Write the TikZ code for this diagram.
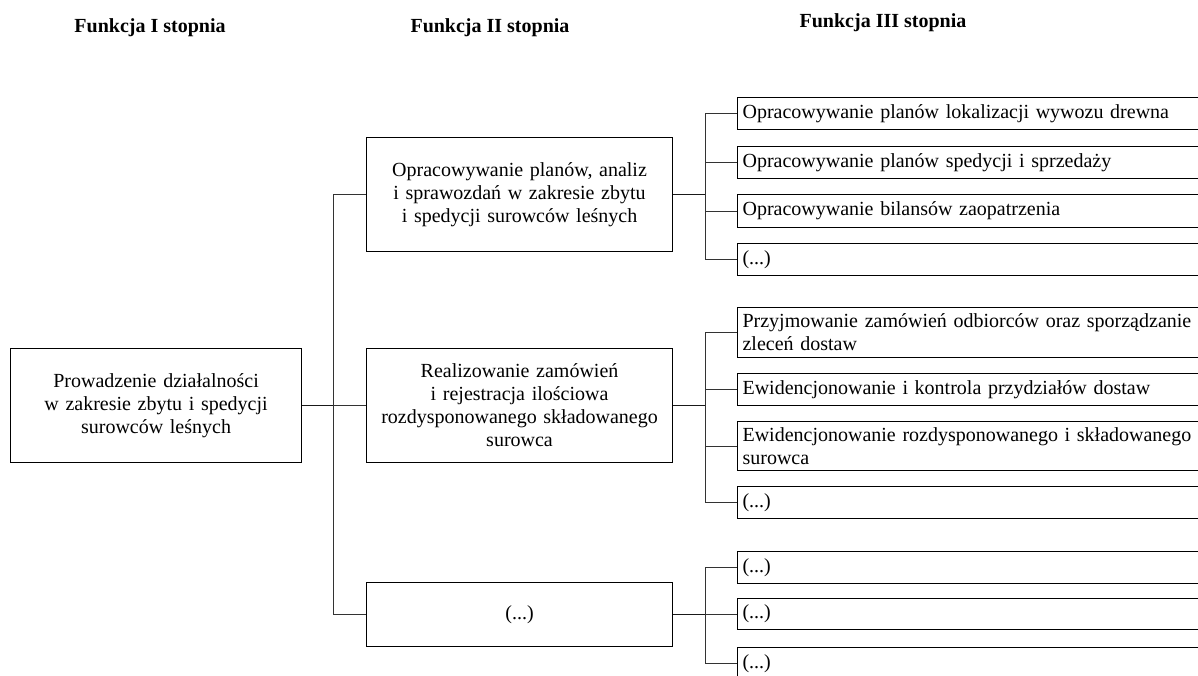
\documentclass[tikz,border=0pt]{standalone}
\usepackage{fontspec}
\setmainfont{Liberation Serif}
\begin{document}
\begin{tikzpicture}[x=1pt,y=-1pt,
  txt/.style={font=\fontsize{20}{23}\selectfont},
  head/.style={font=\fontsize{20}{23}\selectfont\bfseries, inner sep=0pt},
  box/.style={txt, draw=black, line width=1.1pt, inner ysep=0pt, inner xsep=5pt, anchor=north west},
  mainbox/.style={box, minimum width=291pt, text width=281pt, align=center},
  midbox/.style={box, minimum width=306pt, text width=296pt, align=center},
  leafbox/.style={box, minimum width=540pt, text width=530pt, align=left},
  link/.style={draw=black!80, line width=1pt},
  feed/.style={draw=black!90, line width=1.4pt}
]
\clip (0,0) rectangle (1198,675);
\fill[white] (0,0) rectangle (1198,675);

% column headings
\node[head] (h1) at (150,28) {Funkcja I stopnia};
\node[head] (h2) at (490,27.5) {Funkcja II stopnia};
\node[head] (h3) at (883,23) {Funkcja III stopnia};

% first-level function
\node[mainbox, minimum height=113.5pt] (f1) at (10,348)
  {Prowadzenie działalności\\w zakresie zbytu i spedycji\\surowców leśnych};

% second-level functions
\node[midbox, minimum height=113.5pt] (f2a) at (366,137.3)
  {Opracowywanie planów, analiz\\i sprawozdań w zakresie zbytu\\i spedycji surowców leśnych};
\node[midbox, minimum height=113.5pt] (f2b) at (366,348)
  {Realizowanie zamówień\\i rejestracja ilościowa\\rozdysponowanego składowanego\\surowca};
\node[midbox, minimum height=64pt] (f2c) at (366,582) {(...)};

% third-level functions, first group
\node[leafbox, minimum height=32pt] (a1) at (737,97)  {Opracowywanie planów lokalizacji wywozu drewna};
\node[leafbox, minimum height=32pt] (a2) at (737,146) {Opracowywanie planów spedycji i sprzedaży};
\node[leafbox, minimum height=33pt] (a3) at (737,194) {Opracowywanie bilansów zaopatrzenia};
\node[leafbox, minimum height=32pt] (a4) at (737,243) {(...)};

% third-level functions, second group
\node[leafbox, minimum height=50pt] (b1) at (737,307)
  {Przyjmowanie zamówień odbiorców oraz sporządzanie\\zleceń dostaw};
\node[leafbox, minimum height=32pt] (b2) at (737,373) {Ewidencjonowanie i kontrola przydziałów dostaw};
\node[leafbox, minimum height=49pt] (b3) at (737,421)
  {Ewidencjonowanie rozdysponowanego i składowanego\\surowca};
\node[leafbox, minimum height=32pt] (b4) at (737,486) {(...)};

% third-level functions, third group
\node[leafbox, minimum height=32pt] (c1) at (737,551) {(...)};
\node[leafbox, minimum height=31pt] (c2) at (737,598) {(...)};
\node[leafbox, minimum height=32pt] (c3) at (737,647) {(...)};

% vertical trunks of the tree
\coordinate (t1) at (333,0);
\coordinate (t2) at (705,0);

% level 1 -> level 2
\draw[feed] (f1.east) -- (f1.east -| t1);
\draw[link] (t1 |- f2a.west) -- (t1 |- f2c.west);
\foreach \n in {f2a,f2b,f2c} \draw[link] (t1 |- \n.west) -- (\n.west);

% level 2 -> level 3
\draw[feed] (f2a.east) -- (f2a.east -| t2);
\draw[feed] (f2b.east) -- (f2b.east -| t2);
\draw[feed] (f2c.east) -- (f2c.east -| t2);
\draw[link] (t2 |- a1.west) -- (t2 |- a4.west);
\draw[link] (t2 |- b1.west) -- (t2 |- b4.west);
\draw[link] (t2 |- c1.west) -- (t2 |- c3.west);
\foreach \n in {a1,a2,a3,a4,b1,b2,b3,b4,c1,c2,c3} \draw[link] (t2 |- \n.west) -- (\n.west);
\end{tikzpicture}
\end{document}
